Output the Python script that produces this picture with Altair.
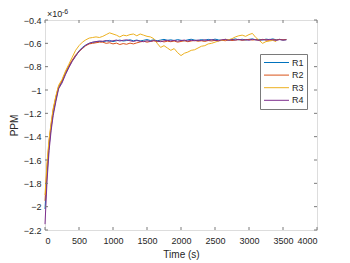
import altair as alt
import pandas as pd

SERIES = ["R1", "R2", "R3", "R4"]
COLORS = ["#0072BD", "#D95319", "#EDB120", "#7E2F8E"]

T_EARLY = [0, 30, 60, 90, 120, 160, 200, 250, 300, 350, 400, 450, 500, 550, 600, 650, 700, 750, 800]
T_FLAT = list(range(850, 3551, 50))
T_FLAT3 = list(range(850, 3401, 50))

R1_EARLY = [-2.02, -1.72, -1.48, -1.32, -1.2, -1.08, -0.98, -0.93, -0.86, -0.8, -0.75, -0.71, -0.665, -0.635, -0.615, -0.6, -0.592, -0.588, -0.584]
R2_EARLY = [-1.95, -1.66, -1.44, -1.3, -1.17, -1.06, -0.97, -0.92, -0.85, -0.79, -0.745, -0.7, -0.67, -0.645, -0.62, -0.605, -0.6, -0.595, -0.59]
R3_EARLY = [-1.9, -1.62, -1.42, -1.28, -1.16, -1.05, -0.96, -0.91, -0.84, -0.78, -0.72, -0.66, -0.62, -0.59, -0.57, -0.555, -0.55, -0.545, -0.55]
R4_EARLY = [-2.15, -1.78, -1.52, -1.35, -1.22, -1.1, -0.99, -0.94, -0.87, -0.81, -0.755, -0.71, -0.67, -0.64, -0.615, -0.6, -0.59, -0.585, -0.58]

R1_FLAT = [-0.585, -0.58, -0.575, -0.585, -0.578, -0.572, -0.58, -0.576, -0.57, -0.578,
           -0.572, -0.58, -0.574, -0.568, -0.576, -0.57, -0.578, -0.572, -0.566, -0.574,
           -0.57, -0.576, -0.568, -0.574, -0.578, -0.57, -0.565, -0.572, -0.576, -0.568,
           -0.574, -0.566, -0.572, -0.564, -0.57, -0.575, -0.566, -0.572, -0.568, -0.562,
           -0.57, -0.565, -0.572, -0.566, -0.562, -0.57, -0.566, -0.572, -0.564, -0.568,
           -0.562, -0.57, -0.566, -0.572, -0.568]
R2_FLAT = [-0.59, -0.6, -0.595, -0.605, -0.598, -0.61, -0.602, -0.608, -0.598, -0.605,
           -0.596, -0.588, -0.582, -0.59, -0.584, -0.578, -0.586, -0.58, -0.588, -0.582,
           -0.586, -0.58, -0.59, -0.584, -0.578, -0.586, -0.58, -0.575, -0.582, -0.578,
           -0.584, -0.576, -0.58, -0.574, -0.578, -0.572, -0.578, -0.57, -0.576, -0.572,
           -0.568, -0.574, -0.57, -0.566, -0.572, -0.568, -0.574, -0.566, -0.57, -0.575,
           -0.568, -0.572, -0.566, -0.57, -0.567]
R3_FLAT = [-0.54, -0.525, -0.51, -0.52, -0.53, -0.545, -0.53, -0.535, -0.525, -0.52,
           -0.535, -0.52, -0.53, -0.54, -0.545, -0.56, -0.6, -0.635, -0.62, -0.64,
           -0.66, -0.645, -0.68, -0.705, -0.685, -0.675, -0.66, -0.655, -0.64, -0.625,
           -0.62, -0.605, -0.6, -0.59, -0.58, -0.575, -0.565, -0.57, -0.56, -0.545,
           -0.535, -0.53, -0.54, -0.525, -0.515, -0.55, -0.575, -0.6, -0.585, -0.58,
           -0.575, -0.585]
R4_FLAT = [-0.582, -0.576, -0.584, -0.578, -0.572, -0.58, -0.574, -0.57, -0.578, -0.584,
           -0.576, -0.582, -0.586, -0.578, -0.584, -0.576, -0.58, -0.586, -0.578, -0.574,
           -0.58, -0.574, -0.582, -0.576, -0.572, -0.58, -0.574, -0.578, -0.572, -0.576,
           -0.57, -0.576, -0.568, -0.574, -0.578, -0.57, -0.566, -0.574, -0.568, -0.572,
           -0.566, -0.572, -0.568, -0.574, -0.566, -0.57, -0.575, -0.568, -0.572, -0.566,
           -0.57, -0.574, -0.568, -0.572, -0.57]

X_TICKS = [0, 500, 1000, 1500, 2000, 2500, 3000, 3500, 4000]
Y_TICKS = [-2.2, -2.0, -1.8, -1.6, -1.4, -1.2, -1.0, -0.8, -0.6, -0.4]

rows = []
for name, early, flat, tf in [("R1", R1_EARLY, R1_FLAT, T_FLAT),
                              ("R2", R2_EARLY, R2_FLAT, T_FLAT),
                              ("R3", R3_EARLY, R3_FLAT, T_FLAT3),
                              ("R4", R4_EARLY, R4_FLAT, T_FLAT)]:
    for t, v in zip(T_EARLY + tf, early + flat):
        rows.append({"t": t, "ppm": v, "series": name})
df = pd.DataFrame(rows)

W, H = 272, 210
BOX = "#7a7a7a"
TXT = "#262626"
FONT = "Liberation Sans"

xscale = alt.Scale(domain=[0, 4000], nice=False, zero=False)
yscale = alt.Scale(domain=[-2.2, -0.4], nice=False, zero=False)

x_axis = alt.Axis(values=X_TICKS, tickSize=0, domain=False, grid=False,
                  labelFontSize=9, labelPadding=6, labelColor=TXT, labelFont=FONT,
                  titleFontSize=10, titleFontWeight="normal", titleColor=TXT,
                  titleFont=FONT, titlePadding=4, format="d")
y_axis = alt.Axis(values=Y_TICKS, tickSize=0, domain=False, grid=False,
                  labelFontSize=9, labelPadding=4, labelColor=TXT, labelFont=FONT,
                  titleFontSize=10, titleFontWeight="normal", titleColor=TXT,
                  titleFont=FONT, titlePadding=4,
                  labelExpr="format(datum.value, '.1~f')")


def X():
    return alt.X("t:Q", scale=xscale, title="Time (s)", axis=x_axis)


def Y():
    return alt.Y("ppm:Q", scale=yscale, title="PPM", axis=y_axis)


lines = alt.Chart(df).mark_line(strokeWidth=1).encode(
    x=X(),
    y=Y(),
    color=alt.Color("series:N", scale=alt.Scale(domain=SERIES, range=COLORS),
                    legend=alt.Legend(title=None, orient="none", legendX=215, legendY=34,
                                      symbolType="M-2.5,0H2.5", symbolSize=100,
                                      symbolStrokeWidth=1, symbolOffset=8,
                                      labelFontSize=9, labelFont=FONT, labelColor=TXT,
                                      labelOffset=10, padding=3, rowPadding=1.6,
                                      strokeColor=BOX, fillColor="white")),
    order=alt.Order("t:Q"),
)

xt = pd.DataFrame({"t": X_TICKS})
yt = pd.DataFrame({"ppm": Y_TICKS})
tick_bottom = alt.Chart(xt).mark_rule(color=BOX, strokeWidth=1).encode(
    x=X(), y=alt.value(H), y2=alt.value(H - 3))
tick_top = alt.Chart(xt).mark_rule(color=BOX, strokeWidth=1).encode(
    x=X(), y=alt.value(0), y2=alt.value(3))
tick_left = alt.Chart(yt).mark_rule(color=BOX, strokeWidth=1).encode(
    y=Y(), x=alt.value(0), x2=alt.value(3))
tick_right = alt.Chart(yt).mark_rule(color=BOX, strokeWidth=1).encode(
    y=Y(), x=alt.value(W), x2=alt.value(W - 3))

exp_base = alt.Chart(pd.DataFrame({"s": ["×10"]})).mark_text(
    fontSize=9, font=FONT, color=TXT, align="left", baseline="alphabetic").encode(
    text="s:N", x=alt.value(2), y=alt.value(-3))
exp_pow = alt.Chart(pd.DataFrame({"s": ["-6"]})).mark_text(
    fontSize=7, font=FONT, color=TXT, align="left", baseline="alphabetic").encode(
    text="s:N", x=alt.value(17), y=alt.value(-6.5))

chart = alt.layer(lines, tick_bottom, tick_top, tick_left, tick_right, exp_base, exp_pow).properties(
    width=W, height=H,
    autosize=alt.AutoSizeParams(type="none"),
    padding={"left": 37, "top": 12, "right": 20, "bottom": 32},
).configure_view(stroke=BOX, strokeWidth=1).configure(background="white")

chart.save("out.html", embed_options={"renderer": "svg", "actions": False})
